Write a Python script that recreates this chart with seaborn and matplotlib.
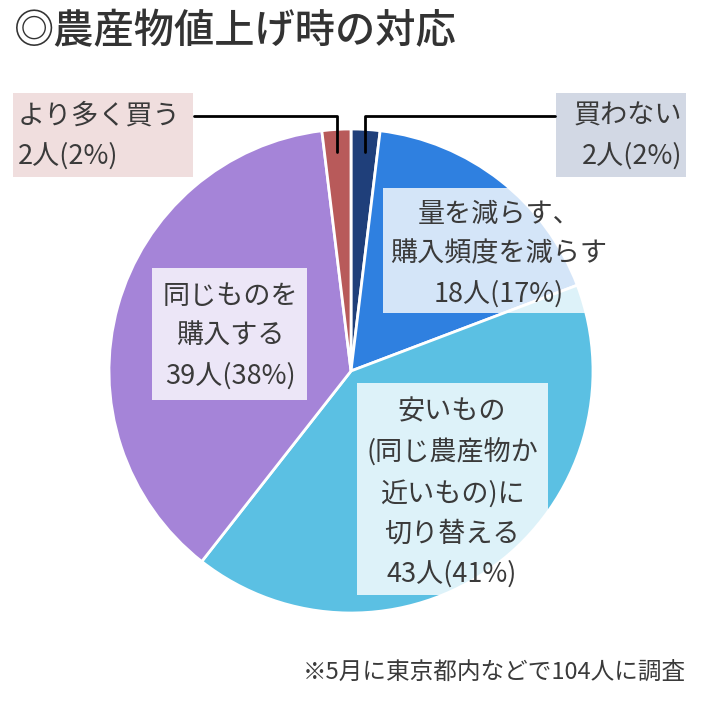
import matplotlib
matplotlib.use("Agg")
import matplotlib.pyplot as plt
import seaborn as sns
from matplotlib.patches import Rectangle

sns.set_theme(style="white")
plt.rcParams['font.family'] = ['Noto Sans CJK JP', 'DejaVu Sans']

# Data
categories = ["買わない", "量を減らす、\n購入頻度を減らす", "安いもの\n(同じ農産物か\n近いもの)に\n切り替える", "同じものを\n購入する", "より多く買う"]
counts = [2, 18, 43, 39, 2]
percents = [2, 17, 41, 38, 2]
colors = ["#1f3f7a", "#2f80e0", "#5bc0e3", "#a584d8", "#b85a5a"]
title = "◎農産物値上げ時の対応"
note = "※5月に東京都内などで104人に調査"

W = H = 702
fig = plt.figure(figsize=(7.02, 7.02), dpi=100)
ax = fig.add_axes([0, 0, 1, 1])
cx, cy, R = 351, 371, 242
ax.pie(counts, colors=colors, startangle=90, counterclock=False,
       wedgeprops=dict(edgecolor="white", linewidth=2))
ax.set_xlim(-cx / R, (W - cx) / R)
ax.set_ylim(-(H - cy) / R, cy / R)
ax.set_aspect("equal")
ax.axis("off")

tc = "#3a3a3a"
ls = 1.6

def fx(x):
    return x / W

def fy(y):
    return 1 - y / H

def box(x0, y0, x1, y1, color, alpha):
    fig.add_artist(Rectangle((fx(x0), fy(y1)), fx(x1 - x0), (y1 - y0) / H,
                             transform=fig.transFigure, facecolor=color,
                             alpha=alpha, edgecolor="none", zorder=3))

def label(i):
    return f"{categories[i]}\n{counts[i]}人({percents[i]}%)"

fs = 19.5

# inner label boxes
box(383, 188, 588, 313, "white", 0.8)
fig.text(fx(499), fy(254), label(1), ha="center", va="center", fontsize=fs,
         color=tc, linespacing=ls, zorder=4)
box(152, 268, 307, 400, "white", 0.8)
fig.text(fx(230), fy(336), label(3), ha="center", va="center", fontsize=fs,
         color=tc, linespacing=ls, zorder=4)
box(357, 383, 548, 595, "white", 0.8)
fig.text(fx(452), fy(493), label(2), ha="center", va="center", fontsize=fs,
         color=tc, linespacing=ls, zorder=4)

# outer label boxes
box(13, 93, 193, 177, colors[4], 0.2)
fig.text(fx(18), fy(136), label(4), ha="left", va="center", fontsize=fs,
         color=tc, linespacing=ls, zorder=4, multialignment="left")
box(556, 93, 686, 177, colors[0], 0.2)
fig.text(fx(682), fy(136), label(0), ha="right", va="center", fontsize=fs,
         color=tc, linespacing=ls, zorder=4, multialignment="right")

# leader lines
fig.add_artist(plt.Line2D([fx(194), fx(337), fx(337)], [fy(116), fy(116), fy(152)],
                          transform=fig.transFigure, color="black", lw=2, zorder=5))
fig.add_artist(plt.Line2D([fx(555), fx(365), fx(365)], [fy(116), fy(116), fy(152)],
                          transform=fig.transFigure, color="black", lw=2, zorder=5))

fig.text(fx(14), fy(32), title, ha="left", va="center", fontsize=29,
         color="#333333", fontweight="medium")
fig.text(fx(686), fy(672), note, ha="right", va="center", fontsize=17, color=tc)

fig.savefig("out.png", dpi=100, facecolor="white")
